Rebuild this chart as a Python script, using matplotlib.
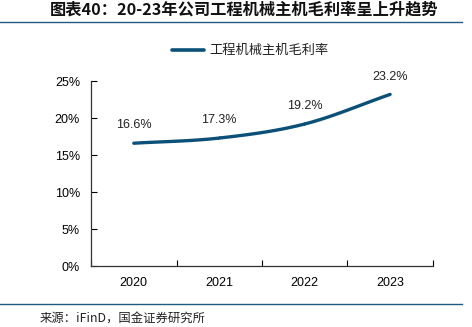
import numpy as np
import matplotlib
matplotlib.use("Agg")
import matplotlib.pyplot as plt
from matplotlib.lines import Line2D

plt.rcParams['font.family'] = ['Liberation Sans', 'Noto Sans CJK SC', 'DejaVu Sans']

# data
years = ["2020", "2021", "2022", "2023"]
margin = [16.6, 17.3, 19.2, 23.2]
labels = ["16.6%", "17.3%", "19.2%", "23.2%"]

title = "图表40：20-23年公司工程机械主机毛利率呈上升趋势"
legend_name = "工程机械主机毛利率"
source = "来源：iFinD，国金证券研究所"

line_color = "#0b5078"
rule_color = "#1f5a85"


def smooth(x, y, n=30):
    # Catmull-Rom through the points, just for drawing
    x = np.asarray(x, float)
    y = np.asarray(y, float)
    px = np.concatenate([[2 * x[0] - x[1]], x, [2 * x[-1] - x[-2]]])
    py = np.concatenate([[2 * y[0] - y[1]], y, [2 * y[-1] - y[-2]]])
    xs, ys = [], []
    t = np.linspace(0, 1, n)
    for i in range(1, len(px) - 2):
        for p, out in ((px, xs), (py, ys)):
            p0, p1, p2, p3 = p[i - 1], p[i], p[i + 1], p[i + 2]
            out.extend(0.5 * (2 * p1 + (-p0 + p2) * t
                              + (2 * p0 - 5 * p1 + 4 * p2 - p3) * t ** 2
                              + (-p0 + 3 * p1 - 3 * p2 + p3) * t ** 3))
    return np.array(xs), np.array(ys)


fig = plt.figure(figsize=(4.72, 3.27), dpi=100)
ax = fig.add_axes([0.193, 0.1865, 0.724, 0.5655])

x = np.arange(len(years))
sx, sy = smooth(x, margin)
ax.plot(sx, sy, color=line_color, lw=2.4, solid_capstyle="round")

for xi, yi, lab in zip(x, margin, labels):
    ax.annotate(lab, (xi, yi), xytext=(0, 8.5), textcoords="offset points",
                ha="center", va="bottom", fontsize=9, color="#222222")

ax.set_xlim(-0.5, len(years) - 0.5)
ax.set_ylim(0, 25)
ax.set_yticks([0, 5, 10, 15, 20, 25])
ax.set_yticklabels([f"{v}%" for v in [0, 5, 10, 15, 20, 25]], fontsize=9)
ax.set_xticks(x)
ax.set_xticklabels(years, fontsize=9)
ax.set_xticks(np.arange(-0.5, len(years)), minor=True)
ax.tick_params(axis="x", which="major", length=0, pad=8)
ax.tick_params(axis="x", which="minor", direction="in", length=4, width=0.8)
ax.tick_params(axis="y", direction="in", length=4, width=0.8, pad=8)
for s in ["top", "right"]:
    ax.spines[s].set_visible(False)
for s in ["left", "bottom"]:
    ax.spines[s].set_color("#333333")
    ax.spines[s].set_linewidth(0.9)

# legend
fig.add_artist(Line2D([172 / 472, 204 / 472], [1 - 50 / 327] * 2, color=line_color,
                      lw=2.6, solid_capstyle="round"))
fig.text(209 / 472, 1 - 50 / 327, legend_name, fontsize=9.5, va="center", ha="left",
         family=['Noto Sans CJK SC', 'DejaVu Sans'], color="#222222")

# title and footer
fig.text(244 / 472, 1 - 10 / 327, title, fontsize=11.7, weight="bold", ha="center",
         va="center", family=['Noto Sans CJK SC', 'DejaVu Sans'], color="#111111")
fig.add_artist(Line2D([0, 462 / 472], [1 - 21.5 / 327] * 2, color=rule_color, lw=1.0))
fig.add_artist(Line2D([0, 462 / 472], [1 - 304 / 327] * 2, color=rule_color, lw=1.0))
fig.text(40 / 472, 1 - 319 / 327, source, fontsize=8.9, ha="left", va="center",
         family=['Noto Sans CJK SC', 'DejaVu Sans'], color="#222222")

fig.savefig("out.png", dpi=100)
